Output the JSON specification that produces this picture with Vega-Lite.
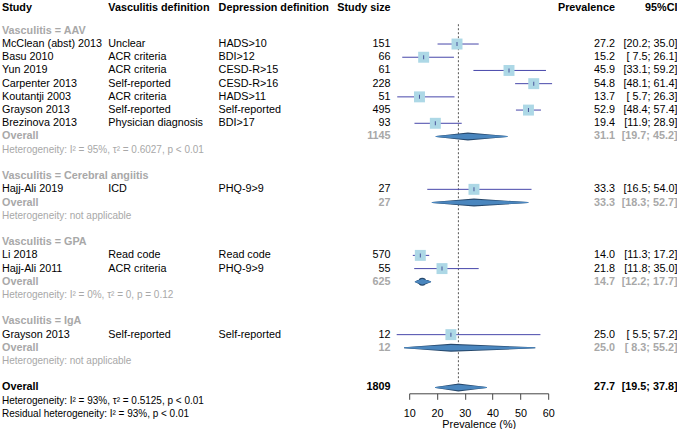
{
  "$schema": "https://vega.github.io/schema/vega-lite/v6.json",
  "padding": {"left": 2, "top": 0, "right": 0, "bottom": 0},
  "background": "white",
  "spacing": 18.3,
  "bounds": "flush",
  "config": {
    "view": {"stroke": null},
    "text": {"font": "Liberation Sans", "fontSize": 10.8, "baseline": "middle"},
    "axis": {"labelFont": "Liberation Sans", "titleFont": "Liberation Sans"},
    "axisX": {"grid": false, "tickSize": 6, "labelFontSize": 10.8, "titleFontSize": 10.8, "titleFontWeight": "normal", "labelColor": "black", "titleColor": "black", "domainColor": "#444444", "tickColor": "#444444", "labelPadding": 8, "titlePadding": 0, "labelFlush": false, "labelOverlap": false}
  },
  "datasets": {
    "studies": [
      {"r": 1, "study": "McClean (abst) 2013", "vdef": "Unclear", "ddef": "HADS>10", "n": 151, "est": 27.2, "lo": 20.2, "hi": 35.0},
      {"r": 2, "study": "Basu 2010", "vdef": "ACR criteria", "ddef": "BDI>12", "n": 66, "est": 15.2, "lo": 7.5, "hi": 26.1},
      {"r": 3, "study": "Yun 2019", "vdef": "ACR criteria", "ddef": "CESD-R>15", "n": 61, "est": 45.9, "lo": 33.1, "hi": 59.2},
      {"r": 4, "study": "Carpenter 2013", "vdef": "Self-reported", "ddef": "CESD-R>16", "n": 228, "est": 54.8, "lo": 48.1, "hi": 61.4},
      {"r": 5, "study": "Koutantji 2003", "vdef": "ACR criteria", "ddef": "HADS>11", "n": 51, "est": 13.7, "lo": 5.7, "hi": 26.3},
      {"r": 6, "study": "Grayson 2013", "vdef": "Self-reported", "ddef": "Self-reported", "n": 495, "est": 52.9, "lo": 48.4, "hi": 57.4},
      {"r": 7, "study": "Brezinova 2013", "vdef": "Physician diagnosis", "ddef": "BDI>17", "n": 93, "est": 19.4, "lo": 11.9, "hi": 28.9},
      {"r": 12, "study": "Hajj-Ali 2019", "vdef": "ICD", "ddef": "PHQ-9>9", "n": 27, "est": 33.3, "lo": 16.5, "hi": 54.0},
      {"r": 17, "study": "Li 2018", "vdef": "Read code", "ddef": "Read code", "n": 570, "est": 14.0, "lo": 11.3, "hi": 17.2},
      {"r": 18, "study": "Hajj-Ali 2011", "vdef": "ACR criteria", "ddef": "PHQ-9>9", "n": 55, "est": 21.8, "lo": 11.8, "hi": 35.0},
      {"r": 23, "study": "Grayson 2013", "vdef": "Self-reported", "ddef": "Self-reported", "n": 12, "est": 25.0, "lo": 5.5, "hi": 57.2}
    ],
    "pooled": [
      {"r": 8, "type": "sub", "n": 1145, "est": 31.1, "lo": 19.7, "hi": 45.2},
      {"r": 13, "type": "sub", "n": 27, "est": 33.3, "lo": 18.3, "hi": 52.7},
      {"r": 19, "type": "sub", "n": 625, "est": 14.7, "lo": 12.2, "hi": 17.7},
      {"r": 24, "type": "sub", "n": 12, "est": 25.0, "lo": 8.3, "hi": 55.2},
      {"r": 27, "type": "total", "n": 1809, "est": 27.7, "lo": 19.5, "hi": 37.8}
    ],
    "labels": [
      {"r": 0, "type": "group", "t": "Vasculitis = AAV"},
      {"r": 9, "type": "het", "t": "Heterogeneity: I² = 95%, τ² = 0.6027, p < 0.01"},
      {"r": 11, "type": "group", "t": "Vasculitis = Cerebral angiitis"},
      {"r": 14, "type": "het", "t": "Heterogeneity: not applicable"},
      {"r": 16, "type": "group", "t": "Vasculitis = GPA"},
      {"r": 20, "type": "het", "t": "Heterogeneity: I² = 0%, τ² = 0, p = 0.12"},
      {"r": 22, "type": "group", "t": "Vasculitis = IgA"},
      {"r": 25, "type": "het", "t": "Heterogeneity: not applicable"},
      {"r": 28, "type": "tothet", "t": "Heterogeneity: I² = 93%, τ² = 0.5125, p < 0.01"},
      {"r": 29, "type": "tothet", "t": "Residual heterogeneity: I² = 93%, p < 0.01"}
    ]
  },
  "hconcat": [
    {
      "width": 87.7, "height": 393.3,
      "encoding": {"y": {"field": "r", "type": "quantitative", "scale": {"domain": [-2.333, 27.44], "reverse": true, "nice": false, "zero": false}, "axis": null}},
      "layer": [
        {"data": {"values": [{"t": "Study", "r": -1.727}]}, "mark": {"type": "text", "align": "left", "fontWeight": "bold"}, "encoding": {"x": {"value": 0}, "text": {"field": "t"}}},
        {"data": {"name": "studies"}, "mark": {"type": "text", "align": "left", "color": "black"}, "encoding": {"x": {"value": 0}, "text": {"field": "study"}}},
        {"data": {"name": "labels"}, "transform": [{"filter": "datum.type == 'group'"}], "mark": {"type": "text", "align": "left", "fontWeight": "bold", "color": "#A8A8A8"}, "encoding": {"x": {"value": 0}, "text": {"field": "t"}}},
        {"data": {"name": "labels"}, "transform": [{"filter": "datum.type == 'het'"}], "mark": {"type": "text", "align": "left", "fontSize": 10, "color": "#A8A8A8"}, "encoding": {"x": {"value": 0}, "text": {"field": "t"}}},
        {"data": {"name": "labels"}, "transform": [{"filter": "datum.type == 'tothet'"}], "mark": {"type": "text", "align": "left", "fontSize": 10, "color": "black"}, "encoding": {"x": {"value": 0}, "text": {"field": "t"}}},
        {"data": {"name": "pooled"}, "transform": [{"filter": "datum.type == 'sub'"}], "mark": {"type": "text", "align": "left", "fontWeight": "bold", "color": "#A8A8A8"}, "encoding": {"x": {"value": 0}, "text": {"value": "Overall"}}},
        {"data": {"name": "pooled"}, "transform": [{"filter": "datum.type == 'total'"}], "mark": {"type": "text", "align": "left", "fontWeight": "bold", "color": "black"}, "encoding": {"x": {"value": 0}, "text": {"value": "Overall"}}}
      ]
    },
    {
      "width": 91.7, "height": 393.3,
      "encoding": {"y": {"field": "r", "type": "quantitative", "scale": {"domain": [-2.333, 27.44], "reverse": true, "nice": false, "zero": false}, "axis": null}},
      "layer": [
        {"data": {"values": [{"t": "Vasculitis definition", "r": -1.727}]}, "mark": {"type": "text", "align": "left", "fontWeight": "bold"}, "encoding": {"x": {"value": 0}, "text": {"field": "t"}}},
        {"data": {"name": "studies"}, "mark": {"type": "text", "align": "left", "color": "black"}, "encoding": {"x": {"value": 0}, "text": {"field": "vdef"}}}
      ]
    },
    {
      "width": 100, "height": 393.3,
      "encoding": {"y": {"field": "r", "type": "quantitative", "scale": {"domain": [-2.333, 27.44], "reverse": true, "nice": false, "zero": false}, "axis": null}},
      "layer": [
        {"data": {"values": [{"t": "Depression definition", "r": -1.727}]}, "mark": {"type": "text", "align": "left", "fontWeight": "bold"}, "encoding": {"x": {"value": 0}, "text": {"field": "t"}}},
        {"data": {"name": "studies"}, "mark": {"type": "text", "align": "left", "color": "black"}, "encoding": {"x": {"value": 0}, "text": {"field": "ddef"}}}
      ]
    },
    {
      "width": 53.7, "height": 393.3,
      "encoding": {"y": {"field": "r", "type": "quantitative", "scale": {"domain": [-2.333, 27.44], "reverse": true, "nice": false, "zero": false}, "axis": null}},
      "layer": [
        {"data": {"values": [{"t": "Study size", "r": -1.727}]}, "mark": {"type": "text", "align": "right", "fontWeight": "bold"}, "encoding": {"x": {"value": "width"}, "text": {"field": "t"}}},
        {"data": {"name": "studies"}, "mark": {"type": "text", "align": "right", "color": "black"}, "encoding": {"x": {"value": "width"}, "text": {"field": "n", "type": "quantitative", "format": "d"}}},
        {"data": {"name": "pooled"}, "transform": [{"filter": "datum.type == 'sub'"}], "mark": {"type": "text", "align": "right", "fontWeight": "bold", "color": "#A8A8A8"}, "encoding": {"x": {"value": "width"}, "text": {"field": "n", "type": "quantitative", "format": "d"}}},
        {"data": {"name": "pooled"}, "transform": [{"filter": "datum.type == 'total'"}], "mark": {"type": "text", "align": "right", "fontWeight": "bold", "color": "black"}, "encoding": {"x": {"value": "width"}, "text": {"field": "n", "type": "quantitative", "format": "d"}}}
      ]
    },
    {
      "width": 139, "height": 393.3,
      "encoding": {"y": {"field": "r", "type": "quantitative", "scale": {"domain": [-2.333, 27.44], "reverse": true, "nice": false, "zero": false}, "axis": null}},
      "layer": [
        {
          "data": {"name": "pooled"}, "transform": [{"filter": "datum.type == 'total'"}],
          "mark": {"type": "rule", "strokeDash": [2, 2], "color": "#555555", "strokeWidth": 1},
          "encoding": {
            "x": {"field": "est", "type": "quantitative", "title": "Prevalence (%)", "scale": {"domain": [10, 60], "nice": false, "zero": false},
                  "axis": {"values": [10, 20, 30, 40, 50, 60], "labelOverlap": false}},
            "y": {"datum": -0.5},
            "y2": {"datum": 27.2}
          }
        },
        {
          "data": {"name": "studies"},
          "mark": {"type": "rule", "color": "#4646AA", "strokeWidth": 1},
          "encoding": {"x": {"field": "lo", "type": "quantitative", "title": "Prevalence (%)", "scale": {"domain": [10, 60], "nice": false, "zero": false}, "axis": {"values": [10, 20, 30, 40, 50, 60], "labelOverlap": false}}, "x2": {"field": "hi"}}
        },
        {
          "data": {"name": "studies"},
          "mark": {"type": "point", "shape": "square", "filled": true, "color": "#ADD8E6", "size": 120, "opacity": 1},
          "encoding": {"x": {"field": "est", "type": "quantitative", "title": "Prevalence (%)", "scale": {"domain": [10, 60], "nice": false, "zero": false}, "axis": {"values": [10, 20, 30, 40, 50, 60], "labelOverlap": false}}}
        },
        {
          "data": {"name": "studies"},
          "mark": {"type": "tick", "orient": "vertical", "size": 4, "thickness": 1, "color": "#1F1F7A"},
          "encoding": {"x": {"field": "est", "type": "quantitative", "title": "Prevalence (%)", "scale": {"domain": [10, 60], "nice": false, "zero": false}, "axis": {"values": [10, 20, 30, 40, 50, 60], "labelOverlap": false}}}
        },
        {
          "data": {"name": "pooled"},
          "transform": [{"fold": ["lo", "est", "hi"], "as": ["k", "v"]}],
          "mark": {"type": "trail", "color": "#27496D"},
          "encoding": {
            "x": {"field": "v", "type": "quantitative", "title": "Prevalence (%)", "scale": {"domain": [10, 60], "nice": false, "zero": false}, "axis": {"values": [10, 20, 30, 40, 50, 60], "labelOverlap": false}},
            "detail": {"field": "r", "type": "nominal"},
            "order": {"field": "v", "type": "quantitative"},
            "size": {"condition": {"test": "datum.k == 'est'", "value": 8}, "value": 0}
          }
        },
        {
          "data": {"name": "pooled"},
          "transform": [{"fold": ["lo", "est", "hi"], "as": ["k", "v"]}],
          "mark": {"type": "trail", "color": "#4A86BE"},
          "encoding": {
            "x": {"field": "v", "type": "quantitative", "title": "Prevalence (%)", "scale": {"domain": [10, 60], "nice": false, "zero": false}, "axis": {"values": [10, 20, 30, 40, 50, 60], "labelOverlap": false}},
            "detail": {"field": "r", "type": "nominal"},
            "order": {"field": "v", "type": "quantitative"},
            "size": {"condition": {"test": "datum.k == 'est'", "value": 5.5}, "value": 0}
          }
        }
      ]
    },
    {
      "width": 48.4, "height": 393.3,
      "encoding": {"y": {"field": "r", "type": "quantitative", "scale": {"domain": [-2.333, 27.44], "reverse": true, "nice": false, "zero": false}, "axis": null}},
      "layer": [
        {"data": {"values": [{"t": "Prevalence", "r": -1.727}]}, "mark": {"type": "text", "align": "right", "fontWeight": "bold"}, "encoding": {"x": {"value": "width"}, "text": {"field": "t"}}},
        {"data": {"name": "studies"}, "mark": {"type": "text", "align": "right", "color": "black"}, "encoding": {"x": {"value": "width"}, "text": {"field": "est", "type": "quantitative", "format": ".1f"}}},
        {"data": {"name": "pooled"}, "transform": [{"filter": "datum.type == 'sub'"}], "mark": {"type": "text", "align": "right", "fontWeight": "bold", "color": "#A8A8A8"}, "encoding": {"x": {"value": "width"}, "text": {"field": "est", "type": "quantitative", "format": ".1f"}}},
        {"data": {"name": "pooled"}, "transform": [{"filter": "datum.type == 'total'"}], "mark": {"type": "text", "align": "right", "fontWeight": "bold", "color": "black"}, "encoding": {"x": {"value": "width"}, "text": {"field": "est", "type": "quantitative", "format": ".1f"}}}
      ]
    },
    {
      "width": 43.7, "height": 393.3,
      "encoding": {"y": {"field": "r", "type": "quantitative", "scale": {"domain": [-2.333, 27.44], "reverse": true, "nice": false, "zero": false}, "axis": null}},
      "layer": [
        {"data": {"values": [{"t": "95%CI", "r": -1.727}]}, "mark": {"type": "text", "align": "right", "fontWeight": "bold"}, "encoding": {"x": {"value": "width"}, "text": {"field": "t"}}},
        {"data": {"name": "studies"}, "transform": [{"calculate": "'[' + (datum.lo < 10 ? '\u00a0' : '') + format(datum.lo, '.1f') + '; ' + format(datum.hi, '.1f') + ']'", "as": "ci"}], "mark": {"type": "text", "align": "right", "color": "black"}, "encoding": {"x": {"value": "width"}, "text": {"field": "ci"}}},
        {"data": {"name": "pooled"}, "transform": [{"filter": "datum.type == 'sub'"}, {"calculate": "'[' + (datum.lo < 10 ? '\u00a0' : '') + format(datum.lo, '.1f') + '; ' + format(datum.hi, '.1f') + ']'", "as": "ci"}], "mark": {"type": "text", "align": "right", "fontWeight": "bold", "color": "#A8A8A8"}, "encoding": {"x": {"value": "width"}, "text": {"field": "ci"}}},
        {"data": {"name": "pooled"}, "transform": [{"filter": "datum.type == 'total'"}, {"calculate": "'[' + (datum.lo < 10 ? '\u00a0' : '') + format(datum.lo, '.1f') + '; ' + format(datum.hi, '.1f') + ']'", "as": "ci"}], "mark": {"type": "text", "align": "right", "fontWeight": "bold", "color": "black"}, "encoding": {"x": {"value": "width"}, "text": {"field": "ci"}}}
      ]
    }
  ]
}
